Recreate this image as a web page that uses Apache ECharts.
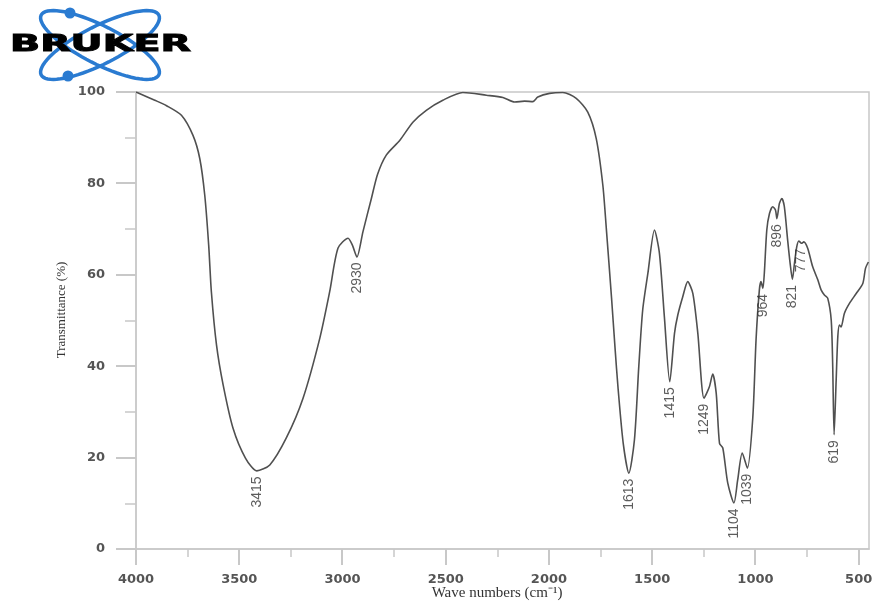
<!DOCTYPE html>
<html>
<head>
<meta charset="utf-8">
<script src="https://cdn.jsdelivr.net/npm/echarts@6/dist/echarts.min.js"></script>
<style>
html,body{margin:0;padding:0;background:#fff;}
#chart{width:875px;height:603px;}
</style>
</head>
<body>
<div id="chart"></div>
<script>
// ---- data ----
const wavenumbers = [
  4000, 3909, 3852, 3780, 3724, 3691, 3667, 3648, 3635, 3610, 3578, 3530, 3470, 3415, 3352, 3272,
  3191, 3110, 3062, 3022, 2973, 2952, 2930, 2901, 2860, 2830, 2788, 2723, 2659, 2594, 2514, 2417,
  2303, 2223, 2166, 2118, 2078, 2054, 1997, 1933, 1868, 1812, 1771, 1739, 1722, 1697, 1680, 1665,
  1640, 1613, 1586, 1565, 1546, 1521, 1489, 1465, 1441, 1415, 1392, 1376, 1352, 1328, 1303, 1279,
  1249, 1223, 1207, 1190, 1174, 1158, 1134, 1104, 1086, 1064, 1039, 1013, 997, 981, 973, 964,
  957, 945, 932, 916, 903, 896, 884, 872, 860, 844, 832, 821, 811, 800, 790, 777,
  766, 747, 723, 698, 682, 666, 650, 633, 626, 619, 609, 601, 593, 585, 569, 544,
  512, 480, 467, 453
];
const transmittance = [
  100, 98.2, 97.0, 94.9, 90.5, 85.4, 77.4, 66.5, 56.3, 44.6, 35.9, 26.4, 19.9, 17.1, 18.4, 24.3,
  33.0, 46.1, 56.3, 65.8, 68.0, 66.5, 63.9, 69.4, 76.7, 82.0, 86.2, 89.4, 93.4, 96.0, 98.2, 99.9,
  99.3, 98.8, 97.8, 98.0, 97.9, 98.9, 99.7, 99.9, 98.6, 95.6, 89.8, 79.6, 70.0, 55.0, 44.0, 35.0,
  23.0, 16.6, 23.9, 39.9, 52.3, 60.3, 69.8, 64.7, 50.8, 36.6, 47.2, 51.2, 55.2, 58.5, 55.9, 47.2,
  33.0, 35.5, 38.3, 34.1, 23.1, 22.1, 14.4, 10.1, 15.1, 21.0, 17.7, 28.6, 45.8, 56.7, 58.5, 57.0,
  60.3, 69.8, 73.4, 74.9, 74.2, 72.3, 75.6, 76.7, 74.9, 67.6, 62.5, 59.0, 62.5, 66.1, 67.4, 66.9,
  67.2, 65.8, 61.8, 58.9, 56.7, 55.6, 54.9, 50.1, 40.6, 25.0, 37.0, 46.5, 49.0, 48.6, 51.6, 53.8,
  55.9, 58.1, 61.4, 62.8
];
const peakWavenumbers = [3415, 2930, 1613, 1415, 1249, 1104, 1039, 964, 896, 821, 777, 619];
const peakTransmittance = [17.1, 63.9, 16.6, 36.6, 33.0, 10.1, 17.7, 57.0, 72.3, 59.0, 66.9, 25.0];
const xMajorTicks = [4000, 3500, 3000, 2500, 2000, 1500, 1000, 500];
const xMinorTicks = [3750, 3250, 2750, 2250, 1750, 1250, 750];
const yMajorTicks = [0, 20, 40, 60, 80, 100];
const yTitle = 'Transmittance (%)';
const xTitle = 'Wave numbers (cm\u207B\u00B9)';
const logoText = 'BRUKER';

// ---- build ----
const X_MIN = 450, X_MAX = 4000;
const spectrum = wavenumbers.map((w, i) => [w, transmittance[i]]);
const peaks = peakWavenumbers.map((w, i) => [w, peakTransmittance[i]]);

const AXIS_COLOR = '#c8c8c8';
const line = () => ({ color: AXIS_COLOR, width: 1.5 });
const tickFont = () => ({ fontFamily: 'DejaVu Sans', fontWeight: 'bold', fontSize: 13, color: '#555', formatter: v => String(v) });

function ellipsePoints(cx, cy, rx, ry, deg) {
  const a = deg * Math.PI / 180, pts = [];
  for (let k = 0; k < 72; k++) {
    const t = k / 72 * Math.PI * 2;
    const x = rx * Math.cos(t), y = ry * Math.sin(t);
    pts.push([cx + x * Math.cos(a) - y * Math.sin(a), cy + x * Math.sin(a) + y * Math.cos(a)]);
  }
  return pts;
}

const chart = echarts.init(document.getElementById('chart'), null, { renderer: 'canvas' });
const xBase = () => ({
  type: 'value', inverse: true, min: X_MIN, max: X_MAX, position: 'bottom',
  splitLine: { show: false }, axisLine: { show: false }, axisTick: { show: false }, axisLabel: { show: false }
});
const staticGraphics = [
  { type: 'polygon', shape: { points: ellipsePoints(100, 45, 66, 19, 27) }, style: { fill: 'none', stroke: '#2a7bd1', lineWidth: 3.5 }, z: 10 },
  { type: 'polygon', shape: { points: ellipsePoints(100, 45, 66, 19, -27) }, style: { fill: 'none', stroke: '#2a7bd1', lineWidth: 3.5 }, z: 10 },
  { type: 'circle', shape: { cx: 70, cy: 13, r: 5.5 }, style: { fill: '#2a7bd1' }, z: 10 },
  { type: 'circle', shape: { cx: 68, cy: 76, r: 5.5 }, style: { fill: '#2a7bd1' }, z: 10 },
  { type: 'text', x: 10, y: 45, scaleX: 1.72, z: 11,
    style: { text: logoText, font: 'bold 23px "DejaVu Sans"', fill: '#000', stroke: '#000', lineWidth: 1, textVerticalAlign: 'middle' } },
  { type: 'text', x: 62, y: 310, rotation: Math.PI / 2, z: 10,
    style: { text: yTitle, font: '13px "Liberation Serif"', fill: '#333', textAlign: 'center', textVerticalAlign: 'middle' } },
  { type: 'text', x: 497, y: 593, z: 10,
    style: { text: xTitle, font: '15px "Liberation Serif"', fill: '#333', textAlign: 'center', textVerticalAlign: 'middle' } }
];
chart.setOption({
  animation: false,
  backgroundColor: '#fff',
  grid: { left: 136, right: 6, top: 92, bottom: 54, containLabel: false, outerBoundsMode: 'none',
          show: true, borderColor: AXIS_COLOR, borderWidth: 1.5 },
  xAxis: [
    Object.assign(xBase(), {
      axisLine: { show: true, lineStyle: line() },
      axisLabel: Object.assign({ show: true, customValues: xMajorTicks, margin: 24 }, tickFont())
    }),
    Object.assign(xBase(), {
      axisTick: { show: true, length: 8, customValues: xMinorTicks, lineStyle: line() }
    })
  ],
  yAxis: {
    type: 'value', min: 0, max: 100, interval: 20, position: 'left',
    splitLine: { show: false },
    axisLine: { show: true, lineStyle: line() },
    axisTick: { show: false },
    minorTick: { show: true, splitNumber: 2, length: 11, lineStyle: line() },
    axisLabel: Object.assign({ show: true, margin: 31 }, tickFont())
  },
  series: [
    {
      type: 'line', xAxisIndex: 0, yAxisIndex: 0, data: spectrum, showSymbol: false, smooth: 0.25,
      lineStyle: { color: '#505050', width: 1.6 }, z: 3
    },
    {
      type: 'scatter', xAxisIndex: 0, yAxisIndex: 0, data: peaks, symbolSize: 1, z: 4,
      itemStyle: { color: 'rgba(0,0,0,0)' },
      label: {
        show: true, position: 'bottom', distance: 5, rotate: 90, align: 'right', verticalAlign: 'middle',
        formatter: p => String(p.value[0]),
        fontFamily: 'Liberation Sans', fontSize: 14, color: '#333'
      }
    }
  ],
  graphic: staticGraphics
});

// major tick marks, positioned through the chart's own axis scales
const tickLines = [];
xMajorTicks.forEach(v => {
  const p = chart.convertToPixel({ xAxisIndex: 0, yAxisIndex: 0 }, [v, 0]);
  tickLines.push({ type: 'rect', z: 100, shape: { x: Math.round(p[0]) - 1, y: p[1], width: 2, height: 16 },
                   style: { fill: AXIS_COLOR } });
});
yMajorTicks.forEach(v => {
  const p = chart.convertToPixel({ xAxisIndex: 0, yAxisIndex: 0 }, [X_MAX, v]);
  tickLines.push({ type: 'rect', z: 100, shape: { x: p[0] - 20, y: Math.round(p[1]) - 1, width: 20, height: 2 },
                   style: { fill: AXIS_COLOR } });
});
chart.setOption({ graphic: staticGraphics.concat(tickLines) });
</script>
</body>
</html>
